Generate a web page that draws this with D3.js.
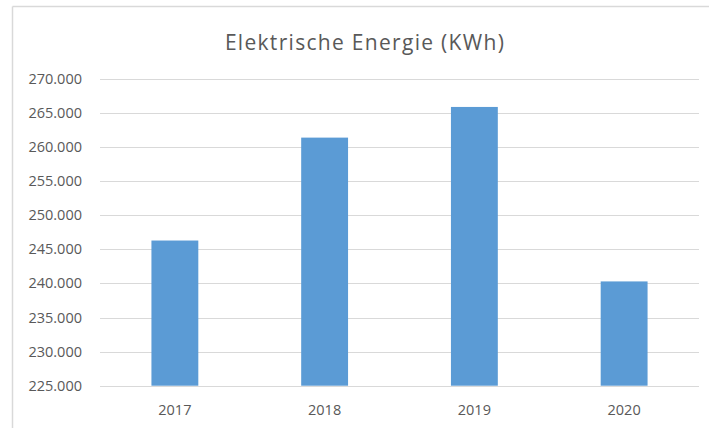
<!DOCTYPE html>
<html>
<head>
<meta charset="utf-8">
<script src="https://cdn.jsdelivr.net/npm/d3@7"></script>
<style>
  html, body { margin: 0; padding: 0; background: #fff; }
  svg { display: block; }
  text { font-family: "Open Sans", "Noto Sans", sans-serif; fill: #595959; }
</style>
</head>
<body>
<div id="draw"></div>
<script>
var years = ['2017', '2018', '2019', '2020'];
var energy = [246300, 261400, 265900, 240300];
var yTicks = [225000, 230000, 235000, 240000, 245000, 250000, 255000, 260000, 265000, 270000];

var W = 709, H = 428;
var plotL = 100, plotR = 699, plotT = 79, plotB = 385.7;

var svg = d3.select('#draw').append('svg')
  .attr('width', W)
  .attr('height', H);

// chart frame (only top + left are visible in the crop)
svg.append('line')
  .attr('x1', 12.5).attr('y1', 6.5).attr('x2', W).attr('y2', 6.5)
  .attr('stroke', '#d9d9d9').attr('stroke-width', 1.5);
svg.append('line')
  .attr('x1', 12.5).attr('y1', 6.5).attr('x2', 12.5).attr('y2', H)
  .attr('stroke', '#d9d9d9').attr('stroke-width', 1.5);

var x = d3.scaleBand().domain(years).range([plotL, plotR]).padding(0);
var y = d3.scaleLinear().domain([225000, 270000]).range([plotB, plotT]);

var fmt = function(v) { return d3.format(',')(v).replace(/,/g, '.'); };

// gridlines
svg.append('g').selectAll('line')
  .data(yTicks)
  .enter().append('line')
  .attr('x1', plotL).attr('x2', plotR)
  .attr('y1', function(d) { return Math.round(y(d)) + 0.5; })
  .attr('y2', function(d) { return Math.round(y(d)) + 0.5; })
  .attr('stroke', '#d9d9d9')
  .attr('stroke-width', 1);

// y labels
svg.append('g').selectAll('text')
  .data(yTicks)
  .enter().append('text')
  .attr('x', 82)
  .attr('y', function(d) { return y(d) + 5; })
  .attr('text-anchor', 'end')
  .attr('font-size', 14.5)
  .text(function(d) { return fmt(d); });

// bars
var bw = x.bandwidth() * 0.313;
svg.append('g').selectAll('rect')
  .data(energy)
  .enter().append('rect')
  .attr('x', function(d, i) { return x(years[i]) + x.bandwidth() / 2 - bw / 2; })
  .attr('y', function(d) { return y(d); })
  .attr('width', bw)
  .attr('height', function(d) { return y(225000) - y(d); })
  .attr('fill', '#5b9bd5');

// x labels
svg.append('g').selectAll('text')
  .data(years)
  .enter().append('text')
  .attr('x', function(d) { return x(d) + x.bandwidth() / 2; })
  .attr('y', 415)
  .attr('text-anchor', 'middle')
  .attr('font-size', 14.5)
  .text(function(d) { return d; });

// title
svg.append('text')
  .attr('x', 365)
  .attr('y', 50)
  .attr('text-anchor', 'middle')
  .attr('font-size', 21)
  .attr('letter-spacing', 1.3)
  .text('Elektrische Energie (KWh)');
</script>
</body>
</html>
